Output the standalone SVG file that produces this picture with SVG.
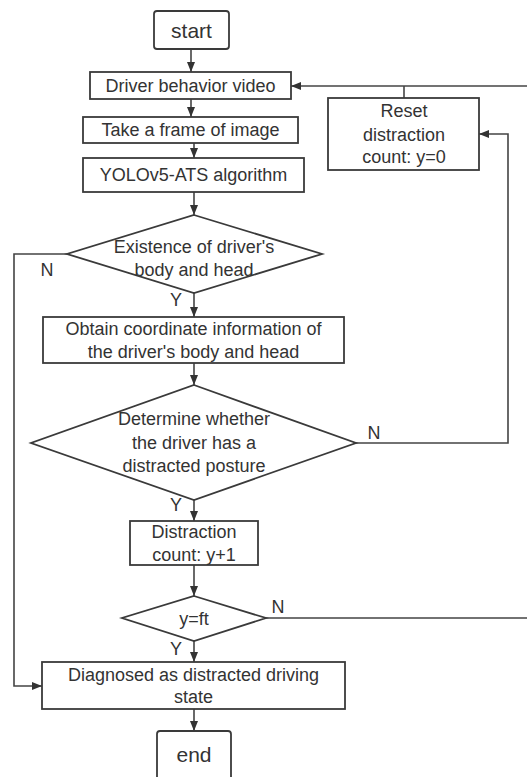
<svg xmlns="http://www.w3.org/2000/svg" width="527" height="777" viewBox="0 0 527 777">
<defs>
<style>
.box{fill:#fff;stroke:#3a3a3a;stroke-width:1.8}
.ln{fill:none;stroke:#444;stroke-width:1.6}
.t{font-family:"Liberation Sans",Arial,sans-serif;font-size:18px;fill:#333;text-anchor:middle}
.tb{font-family:"Liberation Sans",Arial,sans-serif;font-size:21px;fill:#333;text-anchor:middle}
.lbl{font-family:"Liberation Sans",Arial,sans-serif;font-size:18px;fill:#333;text-anchor:middle}
</style>
<marker id="ah" markerUnits="userSpaceOnUse" markerWidth="10" markerHeight="10" viewBox="0 0 10 10" refX="10" refY="5" orient="auto">
<path d="M0,1 L10,5 L0,9 Z" fill="#333"/>
</marker>
</defs>
<rect width="527" height="777" fill="#fff"/>
<g id="connectors">
<path class="ln" d="M191,49 V72" marker-end="url(#ah)"/>
<path class="ln" d="M191,99 V117" marker-end="url(#ah)"/>
<path class="ln" d="M194,143 V158" marker-end="url(#ah)"/>
<path class="ln" d="M194,192 V215" marker-end="url(#ah)"/>
<path class="ln" d="M194,293 V317" marker-end="url(#ah)"/>
<path class="ln" d="M194,363 V385" marker-end="url(#ah)"/>
<path class="ln" d="M194,500 V521" marker-end="url(#ah)"/>
<path class="ln" d="M194,565 V596" marker-end="url(#ah)"/>
<path class="ln" d="M194,641 V662" marker-end="url(#ah)"/>
<path class="ln" d="M194,709 V731" marker-end="url(#ah)"/>
<path class="ln" d="M67,254 H14 V686 H42" marker-end="url(#ah)"/>
<path class="ln" d="M356,443 H508 V134 H479" marker-end="url(#ah)"/>
<path class="ln" d="M266,618 H530 V86"/>
<path class="ln" d="M530,86 H291" marker-end="url(#ah)"/>
<path class="ln" d="M404,98 V86"/>
<text class="lbl" x="47" y="276">N</text>
<text class="lbl" x="176" y="306">Y</text>
<text class="lbl" x="374" y="439">N</text>
<text class="lbl" x="176" y="511">Y</text>
<text class="lbl" x="278" y="613">N</text>
<text class="lbl" x="176" y="655">Y</text>
</g>
<g id="start">
<rect class="box" x="154" y="11" width="75" height="38" rx="3"/>
<text class="tb" x="191.5" y="38">start</text>
</g>
<g id="video">
<rect class="box" x="90" y="72" width="201" height="27"/>
<text class="t" x="190.5" y="92">Driver behavior video</text>
</g>
<g id="frame">
<rect class="box" x="83" y="117" width="215" height="26"/>
<text class="t" x="190.5" y="136">Take a frame of image</text>
</g>
<g id="yolo">
<rect class="box" x="83" y="158" width="221" height="34"/>
<text class="t" x="193.5" y="181">YOLOv5-ATS algorithm</text>
</g>
<g id="reset">
<rect class="box" x="328" y="98" width="151" height="72"/>
<text class="t" x="404" y="117">Reset</text>
<text class="t" x="404" y="141">distraction</text>
<text class="t" x="404" y="163">count: y=0</text>
</g>
<g id="exist">
<polygon class="box" points="194,215 322,254 194,293 67,254"/>
<text class="t" x="194" y="253">Existence of driver's</text>
<text class="t" x="194" y="276">body and head</text>
</g>
<g id="obtain">
<rect class="box" x="43" y="317" width="301" height="46"/>
<text class="t" x="193.5" y="335">Obtain coordinate information of</text>
<text class="t" x="193.5" y="358">the driver's body and head</text>
</g>
<g id="determine">
<polygon class="box" points="194,385 356,443 194,500 31,443"/>
<text class="t" x="194" y="425">Determine whether</text>
<text class="t" x="194" y="449">the driver has a</text>
<text class="t" x="194" y="472">distracted posture</text>
</g>
<g id="count">
<rect class="box" x="130" y="521" width="128" height="44"/>
<text class="t" x="194" y="538">Distraction</text>
<text class="t" x="194" y="561">count: y+1</text>
</g>
<g id="yft">
<polygon class="box" points="194,596 266,618 194,641 122,618"/>
<text class="t" x="194" y="625">y=ft</text>
</g>
<g id="diagnosed">
<rect class="box" x="42" y="662" width="303" height="47"/>
<text class="t" x="193.5" y="681">Diagnosed as distracted driving</text>
<text class="t" x="193.5" y="703">state</text>
</g>
<g id="end">
<rect class="box" x="157" y="731" width="74" height="56" rx="3"/>
<text class="tb" x="194" y="762">end</text>
</g>
</svg>
